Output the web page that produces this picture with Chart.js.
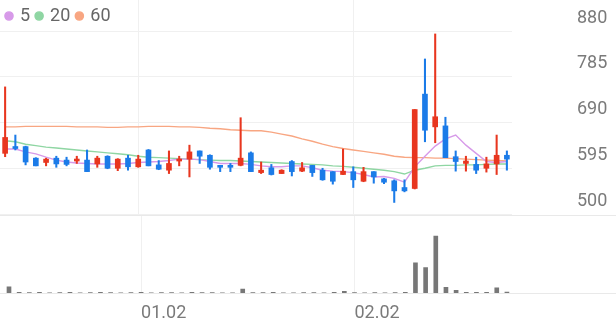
<!DOCTYPE html>
<html>
<head>
<meta charset="utf-8">
<script src="https://cdn.jsdelivr.net/npm/chart.js@4.4.1/dist/chart.umd.min.js"></script>
<style>
  html, body { margin: 0; padding: 0; background: #fff; }
  .wrap { width: 616px; height: 321px; overflow: hidden; }
  canvas { display: block; }
</style>
</head>
<body>
<div class="wrap">
  <canvas id="price" width="616" height="215"></canvas>
  <canvas id="volume" width="616" height="119"></canvas>
</div>
<script>
// trading days (MM.DD)
const dates = [
  '12.13','12.14','12.15','12.16','12.19','12.20','12.21','12.22','12.23','12.26','12.27','12.28','12.29',
  '01.02','01.03','01.04','01.05','01.06','01.09','01.10','01.11','01.12','01.13','01.16','01.17','01.18',
  '01.19','01.20','01.25','01.26','01.27','01.30','01.31','02.01','02.02','02.03','02.06','02.07','02.08',
  '02.09','02.10','02.13','02.14','02.15','02.16','02.17','02.20','02.21','02.22','02.23'
];
const tickLabels = ['01.02', '02.02'];
const priceTicks = [500, 595, 690, 785, 880];

const opens  = [626,640,640,616,607,616,612,610,612,604,620,595,616,598,633,602,591,610,614,631,622,600,600,601,627,586,596,584,609,589,601,591,588,582,588,568,588,573,569,555,553,749,681,683,619,605,603,595,604,622];
const highs  = [764,664,641,617,616,620,618,620,633,620,621,615,622,622,634,611,631,620,643,631,623,600,605,700,629,608,603,592,611,607,601,595,588,635,598,597,588,574,571,571,717,822,874,701,631,620,618,618,664,631];
const lows   = [619,633,602,600,600,597,600,605,588,597,594,590,591,597,600,592,584,600,577,605,593,588,588,600,588,584,581,584,579,588,578,570,562,582,555,567,564,563,524,546,552,650,648,617,589,589,584,587,582,591];
const closes = [659,636,608,600,614,604,603,614,588,616,595,614,598,614,600,593,605,614,629,620,597,597,597,616,588,591,582,591,588,596,586,571,568,589,571,588,577,566,548,548,717,674,702,617,609,610,591,604,622,614];

const ma5  = [635,635,629,625,618,612,608,606,605,604,604,604,605,607,608,609,611,614,614,613,609,605,605,605,603,600,598,598,600,600,596,591,589,588,586,582,577,578,574,566,598,620,641,656,664,643,626,609,607,609];
const ma20 = [652,650,645,642,639,637,635,633,631,629,627,625,623,620,618,617,616,615,614,613,612,611,611,610,609,608,607,606,605,604,603,602,600,599,597,595,593,591,588,583,591,595,600,601,601,602,602,603,604,604];
const ma60 = [681,681,682,682,682,682,682,681,681,681,680,680,681,681,682,682,682,681,681,680,678,677,675,674,673,673,670,666,662,656,651,645,640,636,633,630,627,624,620,618,617,617,616,616,615,614,613,612,611,610];

const volumes = [670000,120000,90000,100000,60000,80000,110000,70000,90000,100000,80000,60000,90000,100000,70000,90000,80000,60000,110000,80000,90000,70000,60000,436000,90000,80000,100000,70000,60000,80000,90000,70000,110000,200000,80000,60000,90000,70000,80000,100000,3084000,2615000,5800000,603000,302000,110000,100000,120000,570000,130000];

const UP = '#e8361f', DOWN = '#1b7be8';
const candleColors = closes.map((c, i) => c >= opens[i] ? UP : DOWN);
const maLabels = ['5', '20', '60'];
const maColors = ['#d79ae9', '#8fd6a3', '#f8a682'];
const GRID = '#f0f0f0', TEXT = '#7a7a7a';

Chart.defaults.font.family = "Roboto, 'Noto Sans', sans-serif";
Chart.defaults.font.size = 18;
Chart.defaults.animation = false;
Chart.defaults.events = [];

const isMarked = i => tickLabels.includes(dates[i]);

// legend drawn over the plot, does not push the chart area down
const overlayLegend = {
  id: 'overlayLegend',
  afterInit(chart) {
    const legend = chart.legend;
    const fit = legend.fit;
    legend.fit = function () { fit.call(this); this.height = 0; };
    legend.draw = function () { if (this.options.display) this._draw(); };
  }
};

new Chart(document.getElementById('price'), {
  type: 'bar',
  data: {
    labels: dates,
    datasets: [
      { label: 'body', data: opens.map((o, i) => [o, closes[i]]), backgroundColor: candleColors,
        barThickness: 5, minBarLength: 2, grouped: false },
      { label: 'wick', data: lows.map((l, i) => [l, highs[i]]), backgroundColor: candleColors,
        barThickness: 1.4, grouped: false },
      ...[ma5, ma20, ma60].map((d, k) => ({
        type: 'line', label: maLabels[k], data: d, borderColor: maColors[k],
        backgroundColor: maColors[k], borderWidth: 1.4, pointRadius: 0, tension: 0
      }))
    ]
  },
  options: {
    responsive: false,
    layout: { padding: { bottom: 1 } },
    plugins: {
      tooltip: { enabled: false },
      legend: {
        position: 'top', align: 'start',
        labels: {
          usePointStyle: true, pointStyle: 'circle', boxWidth: 4, boxHeight: 5.8, padding: 7,
          color: '#666', font: { size: 18 },
          filter: item => maLabels.includes(item.text)
        }
      }
    },
    scales: {
      x: {
        offset: true,
        grid: { offset: false, drawTicks: false, color: c => isMarked(c.index) ? GRID : 'transparent' },
        border: { display: false },
        ticks: { display: false, autoSkip: false }
      },
      y: {
        position: 'right', min: 500, max: 944.5,
        afterBuildTicks: s => { s.ticks = priceTicks.map(v => ({ value: v })); },
        grid: { color: GRID, drawTicks: false },
        border: { display: false },
        ticks: { padding: 65, crossAlign: 'near', labelOffset: -13, color: TEXT },
        afterFit: s => { s.width = 104; s.paddingTop = 0; s.paddingBottom = 0; }
      }
    }
  },
  plugins: [overlayLegend]
});

// separator and baseline lines across the full width
const fullLines = {
  id: 'fullLines',
  afterDatasetsDraw(chart) {
    const { ctx, chartArea, width } = chart;
    const b = Math.round(chartArea.bottom) + 0.5;
    ctx.save();
    ctx.strokeStyle = '#e9e9e9';
    ctx.lineWidth = 1;
    ctx.beginPath();
    ctx.moveTo(0, 0.5); ctx.lineTo(width, 0.5);
    ctx.moveTo(0, b); ctx.lineTo(width, b);
    ctx.stroke();
    ctx.restore();
  }
};

new Chart(document.getElementById('volume'), {
  type: 'bar',
  data: {
    labels: dates,
    datasets: [{ label: 'volume', data: volumes, backgroundColor: '#777', barThickness: 4 }]
  },
  options: {
    responsive: false,
    layout: { padding: { bottom: 1 } },
    plugins: { legend: { display: false }, tooltip: { enabled: false } },
    scales: {
      x: {
        offset: true,
        grid: { offset: false, drawTicks: false, color: c => isMarked(c.index) ? GRID : 'transparent' },
        border: { display: false },
        ticks: {
          autoSkip: false, maxRotation: 0, align: 'start', padding: 9, color: TEXT,
          callback: (v, i) => isMarked(i) ? dates[i] : ''
        }
      },
      y: {
        position: 'right', min: 0, max: 7940000,
        grid: { display: false },
        border: { display: false },
        ticks: { display: false },
        afterFit: s => { s.width = 104; s.paddingTop = 0; s.paddingBottom = 0; }
      }
    }
  },
  plugins: [fullLines]
});
</script>
</body>
</html>
